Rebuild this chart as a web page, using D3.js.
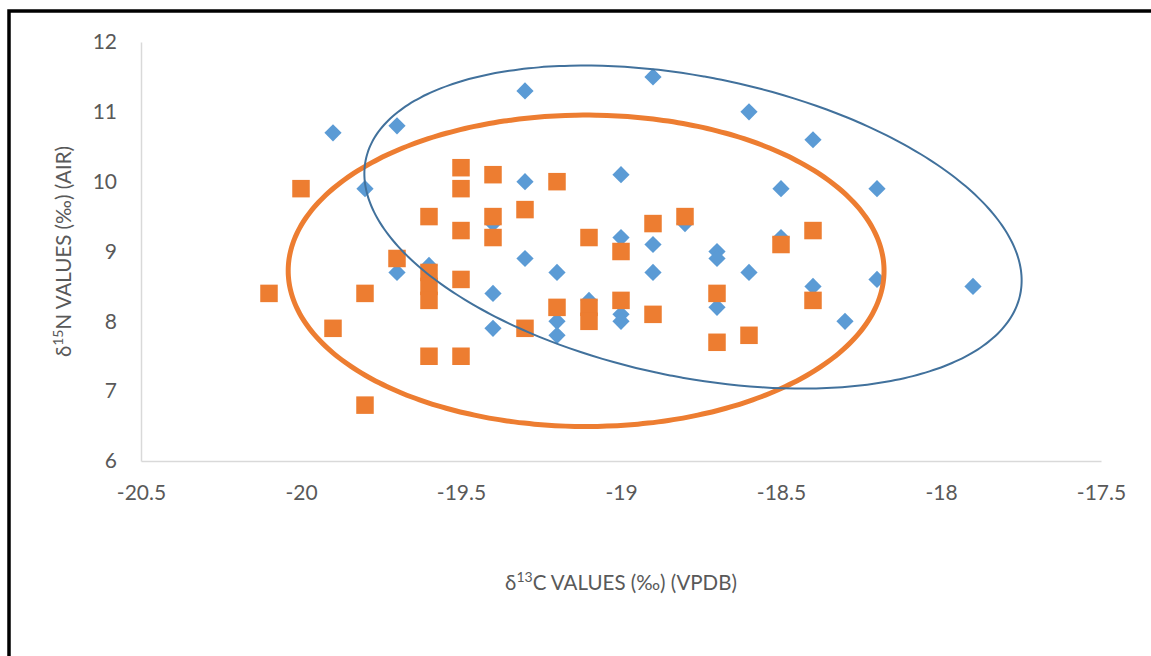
<!DOCTYPE html>
<html>
<head>
<meta charset="utf-8">
<script src="https://cdn.jsdelivr.net/npm/d3@7"></script>
<style>
  html, body { margin: 0; padding: 0; background: #fff; }
  svg { display: block; }
  text { font-family: Lato, "Open Sans", sans-serif; fill: #595959; }
</style>
</head>
<body>
<svg id="chart" width="1151" height="656"></svg>
<script>
// δ13C (x) and δ15N (y) values, group A (blue diamonds)
const groupAC = [-19.9, -19.8, -19.7, -19.7, -19.6, -19.4, -19.4, -19.4, -19.3, -19.3, -19.3, -19.2,
                 -19.2, -19.2, -19.1, -19.0, -19.0, -19.0, -19.0, -18.9, -18.9, -18.9, -18.8, -18.7,
                 -18.7, -18.7, -18.6, -18.6, -18.5, -18.5, -18.4, -18.4, -18.3, -18.2, -18.2, -17.9];
const groupAN = [10.7, 9.9, 10.8, 8.7, 8.8, 9.4, 8.4, 7.9, 11.3, 10.0, 8.9, 8.7,
                 8.0, 7.8, 8.3, 10.1, 9.2, 8.1, 8.0, 11.5, 9.1, 8.7, 9.4, 9.0,
                 8.9, 8.2, 11.0, 8.7, 9.9, 9.2, 10.6, 8.5, 8.0, 9.9, 8.6, 8.5];

// group B (orange squares)
const groupBC = [-20.1, -20.0, -19.9, -19.8, -19.8, -19.7, -19.6, -19.6, -19.6, -19.6, -19.6, -19.5,
                 -19.5, -19.5, -19.5, -19.5, -19.4, -19.4, -19.4, -19.3, -19.3, -19.2, -19.2, -19.1,
                 -19.1, -19.1, -19.0, -19.0, -18.9, -18.9, -18.8, -18.7, -18.7, -18.6, -18.5, -18.4, -18.4];
const groupBN = [8.4, 9.9, 7.9, 8.4, 6.8, 8.9, 9.5, 8.7, 8.5, 8.3, 7.5, 10.2,
                 9.9, 9.3, 8.6, 7.5, 10.1, 9.5, 9.2, 9.6, 7.9, 10.0, 8.2, 9.2,
                 8.2, 8.0, 9.0, 8.3, 9.4, 8.1, 9.5, 8.4, 7.7, 7.8, 9.1, 9.3, 8.3];

// Hand-drawn group outlines in data units:
// x = cx + rx*cos(t), y = cy + tilt*cos(t) + ry*sin(t)
const ringA = [-18.775, 9.35, 1.027, 2.183, -0.765];   // [cx, cy, rx, ry, tilt]
const ringB = [-19.109, 8.724, 0.931, 2.23, 0];

const xTicks = [-20.5, -20, -19.5, -19, -18.5, -18, -17.5];
const yTicks = [6, 7, 8, 9, 10, 11, 12];

const svg = d3.select("#chart");

const x = d3.scaleLinear().domain([-20.5, -17.5]).range([141, 1101]);
const y = d3.scaleLinear().domain([6, 12]).range([461, 42]);

// outer frame (top and left edges)
svg.append("path")
  .attr("d", "M9,656 L9,11 L1151,11")
  .attr("fill", "none")
  .attr("stroke", "#000")
  .attr("stroke-width", 3.5);

// axes
const axisStyle = g => {
  g.select(".domain").attr("stroke", "#D9D9D9").attr("stroke-width", 1.5);
  g.selectAll(".tick line").remove();
  g.selectAll(".tick text")
    .attr("fill", "#595959")
    .style("font-size", "21px")
    .style("font-family", "Lato, 'Open Sans', sans-serif");
};

svg.append("g")
  .attr("transform", `translate(0,${y(6)})`)
  .call(d3.axisBottom(x).tickValues(xTicks).tickSize(0).tickSizeOuter(0).tickPadding(24)
    .tickFormat(d => String(d)))
  .call(axisStyle);

svg.append("g")
  .attr("transform", `translate(${x(-20.5)},0)`)
  .call(d3.axisLeft(y).tickValues(yTicks).tickSize(0).tickSizeOuter(0).tickPadding(24)
    .tickFormat(d => String(d)))
  .call(axisStyle);

// axis titles
const xt = svg.append("text")
  .attr("x", (x(-20.5) + x(-17.5)) / 2)
  .attr("y", 590)
  .attr("text-anchor", "middle")
  .style("font-size", "20.5px");
xt.append("tspan").text("δ");
xt.append("tspan").attr("baseline-shift", "super").style("font-size", "14px").text("13");
xt.append("tspan").text("C VALUES (‰) (VPDB)");

const yt = svg.append("text")
  .attr("transform", `translate(71,${(y(6) + y(12)) / 2}) rotate(-90)`)
  .attr("text-anchor", "middle")
  .style("font-size", "20.5px");
yt.append("tspan").text("δ");
yt.append("tspan").attr("baseline-shift", "super").style("font-size", "14px").text("15");
yt.append("tspan").text("N VALUES (‰) (AIR)");

// markers
const groupA = groupAC.map((c, i) => ({ c, n: groupAN[i] }));
const groupB = groupBC.map((c, i) => ({ c, n: groupBN[i] }));

svg.append("g").selectAll("path")
  .data(groupA)
  .join("path")
  .attr("d", d3.symbol(d3.symbolSquare, 148)())
  .attr("transform", d => `translate(${x(d.c)},${y(d.n)}) rotate(45)`)
  .attr("fill", "#5B9BD5");

const side = 17.5;
svg.append("g").selectAll("rect")
  .data(groupB)
  .join("rect")
  .attr("x", d => x(d.c) - side / 2)
  .attr("y", d => y(d.n) - side / 2)
  .attr("width", side)
  .attr("height", side)
  .attr("fill", "#ED7D31");

// group outlines
const ringPath = r => {
  const [cx, cy, rx, ry, tilt] = r;
  const pts = d3.range(0, 361, 2).map(a => {
    const t = a * Math.PI / 180;
    return [x(cx + rx * Math.cos(t)), y(cy + tilt * Math.cos(t) + ry * Math.sin(t))];
  });
  return d3.line().curve(d3.curveCardinalClosed)(pts.slice(0, -1));
};

svg.append("path")
  .attr("d", ringPath(ringB))
  .attr("fill", "none")
  .attr("stroke", "#ED7D31")
  .attr("stroke-width", 5);

svg.append("path")
  .attr("d", ringPath(ringA))
  .attr("fill", "none")
  .attr("stroke", "#41719C")
  .attr("stroke-width", 2);
</script>
</body>
</html>
